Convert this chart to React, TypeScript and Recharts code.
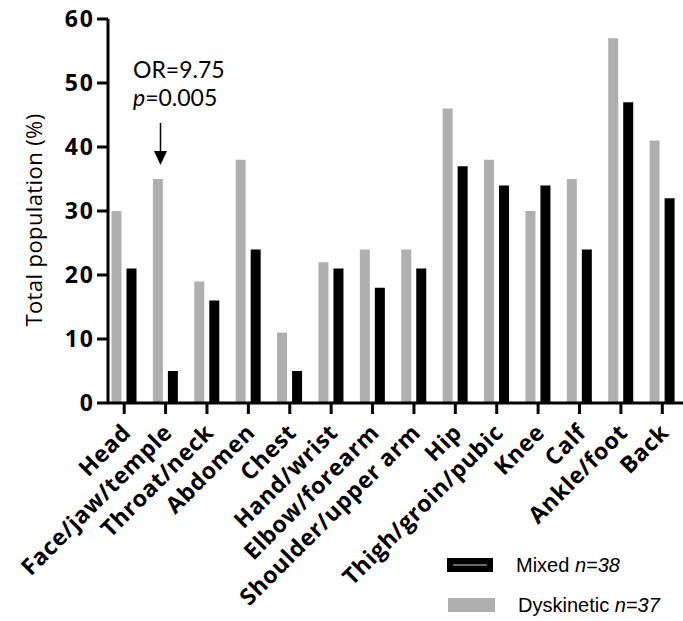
import React from "react";
import { BarChart, Bar, XAxis, YAxis } from "recharts";

const categories = [
  "Head",
  "Face/jaw/temple",
  "Throat/neck",
  "Abdomen",
  "Chest",
  "Hand/wrist",
  "Elbow/forearm",
  "Shoulder/upper arm",
  "Hip",
  "Thigh/groin/pubic",
  "Knee",
  "Calf",
  "Ankle/foot",
  "Back",
];
const dyskinetic = [30, 35, 19, 38, 11, 22, 24, 24, 46, 38, 30, 35, 57, 41];
const mixed = [21, 5, 16, 24, 5, 21, 18, 21, 37, 34, 34, 24, 47, 32];
const yTicks = [0, 10, 20, 30, 40, 50, 60];

const data = categories.map((name, i) => ({
  name,
  dyskinetic: dyskinetic[i],
  mixed: mixed[i],
}));

const W = 683;
const H = 621;
const BOLD = "'Open Sans', 'DejaVu Sans', sans-serif";

const XTick = (props: any) => {
  const { x, y, payload } = props;
  return (
    <g transform={`translate(${x + 8},${y + 18})`}>
      <text
        x={0}
        y={0}
        textAnchor="end"
        transform="rotate(-45)"
        fontFamily={BOLD}
        fontWeight={700}
        fontSize={23}
        letterSpacing={0.6}
        fill="#000"
      >
        {payload.value}
      </text>
    </g>
  );
};

const YTick = (props: any) => {
  const { x, y, payload } = props;
  return (
    <text
      x={x + 1}
      y={y}
      dy={8}
      textAnchor="end"
      fontFamily={BOLD}
      fontWeight={700}
      fontSize={23}
      letterSpacing={2}
      fill="#000"
    >
      {payload.value}
    </text>
  );
};

export default function App() {
  return (
    <div style={{ position: "absolute", left: 0, top: 0, width: W, height: H, background: "#fff" }}>
      <BarChart
        width={W}
        height={H}
        data={data}
        margin={{ top: 19, right: 0, bottom: 0, left: 0 }}
        barSize={10}
        barGap={5}
      >
        <XAxis
          dataKey="name"
          interval={0}
          height={218}
          padding={{ left: -4.5, right: 0 }}
          axisLine={{ stroke: "#000", strokeWidth: 3 }}
          tickLine={{ stroke: "#000", strokeWidth: 3 }}
          tickSize={11}
          tick={<XTick />}
        />
        <YAxis
          width={108}
          domain={[0, 60]}
          ticks={yTicks}
          interval={0}
          axisLine={{ stroke: "#000", strokeWidth: 3 }}
          tickLine={{ stroke: "#000", strokeWidth: 3 }}
          tickSize={11}
          tickMargin={3}
          tick={<YTick />}
        />
        <Bar dataKey="dyskinetic" fill="#afafaf" isAnimationActive={false} />
        <Bar dataKey="mixed" fill="#000" isAnimationActive={false} />
      </BarChart>
      <svg
        width={W}
        height={H}
        style={{ position: "absolute", left: 0, top: 0, pointerEvents: "none" }}
      >
        <text
          transform="translate(42,220) rotate(-90)"
          textAnchor="middle"
          fontFamily="'Open Sans', sans-serif"
          fontSize={22}
          letterSpacing={0.4}
          fill="#000"
        >
          Total population (%)
        </text>
        <text x={133} y={78} fontFamily="Lato, 'Open Sans', sans-serif" fontSize={23} fill="#000">
          OR=9.75
        </text>
        <text x={133} y={106} fontFamily="Lato, 'Open Sans', sans-serif" fontSize={23} fill="#000">
          <tspan fontStyle="italic">p</tspan>=0.005
        </text>
        <line x1={160.5} y1={123} x2={160.5} y2={152} stroke="#000" strokeWidth={1.5} />
        <polygon points="154,151 167,151 160.5,165" fill="#000" />
        <rect x={447} y={558} width={46} height={14} fill="#000" />
        <line x1={453} y1={565} x2={487} y2={565} stroke="#666" strokeWidth={2} />
        <text x={516} y={572} fontFamily="'Liberation Sans', Arial, sans-serif" fontSize={20} fill="#000">
          Mixed <tspan fontStyle="italic">n=38</tspan>
        </text>
        <rect x={448} y={598} width={47} height={14} fill="#afafaf" />
        <text x={518} y={612} fontFamily="'Liberation Sans', Arial, sans-serif" fontSize={20} fill="#000">
          Dyskinetic <tspan fontStyle="italic">n=37</tspan>
        </text>
      </svg>
    </div>
  );
}
